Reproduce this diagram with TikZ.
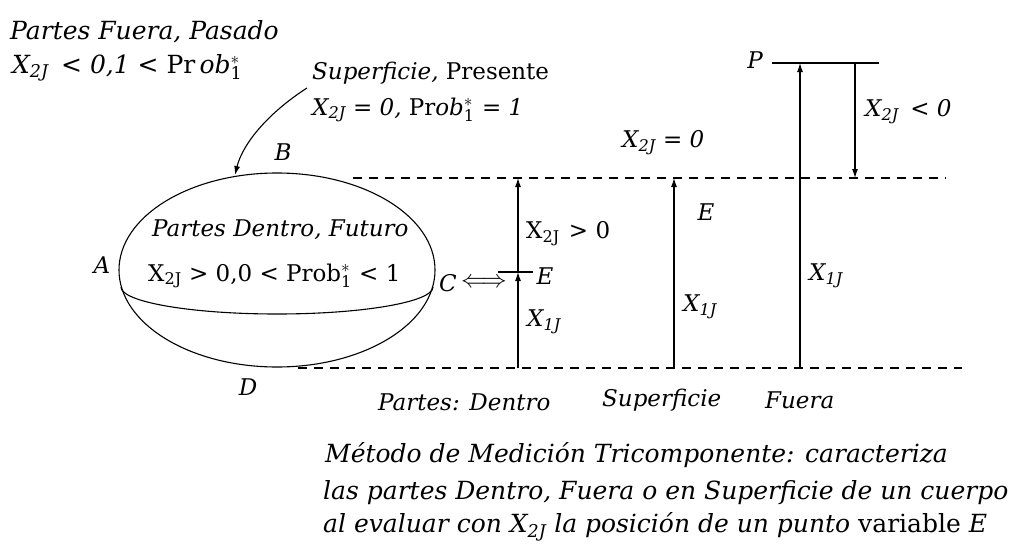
\documentclass[tikz,border=0pt]{standalone}
\usepackage{fontspec}
\setmainfont{DejaVu Serif}
\usetikzlibrary{arrows.meta}
\newcommand{\Xdos}{\textit{X}\textsubscript{2J}}
\newcommand{\Xuno}{\textit{X}\textsubscript{1J}}
\newcommand{\Xrecto}{X\textsubscript{2J}}
\newcommand{\unoast}{$^{*}_{\mathrm{1}}$}
\begin{document}
\begin{tikzpicture}[x=1pt,y=-1pt,
  lbl/.style={inner sep=0pt,font=\fontsize{23}{27}\selectfont\itshape},
  grande/.style={inner sep=0pt,font=\fontsize{25}{30}\selectfont\itshape},
  guia/.style={line width=1.1pt,dash pattern=on 9pt off 7pt},
  trazo/.style={line width=1.1pt},
  flecha/.style={line width=1.1pt,-{Latex[length=9pt,width=6pt]}}]
\useasboundingbox (0,0) rectangle (1011,543);
% textos de arriba
\node[grande,anchor=west] (fuera) at (10,32) {Partes Fuera, Pasado};
\node[grande,anchor=west] (fueracond) at (12,68) {\Xdos\hspace{0.5em}< 0,1 < \upshape Pr\,\itshape ob\unoast};
\node[lbl,anchor=west] (sup) at (312,73) {Superficie, \upshape Presente};
\node[lbl,anchor=west] (supcond) at (312,110) {\Xdos{} = 0, \upshape Pr\itshape ob\unoast{} = 1};
% cuerpo
\draw[trazo] (277,270) ellipse [x radius=158pt, y radius=97pt];
\draw[trazo] (121,287) arc [start angle=180, end angle=360, x radius=156pt, y radius=27pt];
\node[lbl,anchor=west] (dentro) at (152,230) {Partes Dentro, Futuro};
\node[lbl,anchor=west] (dentrocond) at (148,276) {\upshape\Xrecto{} > 0,0 < Prob\unoast{} < 1};
\node[lbl] (A) at (102,265) {A};
\node[lbl] (B) at (283,152) {B};
\node[lbl] (C) at (448,283) {C};
\node[lbl] (D) at (248,387) {D};
\node[lbl] (equiv) at (484,283) {$\Longleftrightarrow$};
\coordinate (supini) at (307,88);
\coordinate (supfin) at (235,175);
\draw[flecha] (supini) .. controls (265,115) and (242,146) .. (supfin);
% niveles
\draw[guia] (353,178) -- (946,178);
\draw[guia] (298,368) -- (962,368);
\coordinate (dbase) at (518,368);
\coordinate (dE) at (518,272);
\coordinate (dtop) at (518,178);
\coordinate (sbase) at (674,368);
\coordinate (stop) at (674,178);
\coordinate (fbase) at (800,368);
\coordinate (fP) at (800,63);
\coordinate (bajaini) at (855,63);
\coordinate (bajafin) at (855,178);
\draw[flecha] (dbase) -- (dE);
\draw[flecha] (dE) -- (dtop);
\draw[trazo] (498,272) -- (533,272);
\draw[flecha] (sbase) -- (stop);
\draw[flecha] (fbase) -- (fP);
\draw[trazo] (772,63) -- (879,63);
\draw[flecha] (bajaini) -- (bajafin);
\node[lbl] (dEl) at (545,276) {E};
\node[lbl,anchor=west] (dX2) at (526,234) {\upshape\Xrecto\hspace{0.4em}> 0};
\node[lbl,anchor=west] (dX1) at (527,322) {\Xuno};
\node[lbl,anchor=west] (sX2) at (622,143) {\Xdos{} = 0};
\node[lbl] (sEl) at (706,212) {E};
\node[lbl,anchor=west] (sX1) at (683,307) {\Xuno};
\node[lbl] (P) at (755,60) {P};
\node[lbl,anchor=west] (fX2) at (865,112) {\Xdos\hspace{0.5em}< 0};
\node[lbl,anchor=west] (fX1) at (809,276) {\Xuno};
\node[lbl,anchor=west] (pdentro) at (378,402) {Partes: Dentro};
\node[lbl,anchor=west] (psup) at (602,400) {Superficie};
\node[lbl,anchor=west] (pfuera) at (765,400) {Fuera};
% leyenda
\node[grande,anchor=west] (ley1) at (325,455) {Método de Medición Tricomponente: caracteriza};
\node[grande,anchor=west] (ley2) at (323,493) {las partes Dentro, Fuera o en Superficie de un cuerpo};
\node[grande,anchor=west] (ley3) at (323,527) {al evaluar con \Xdos{} la posición de un punto \upshape variable \itshape E};
\end{tikzpicture}
\end{document}
